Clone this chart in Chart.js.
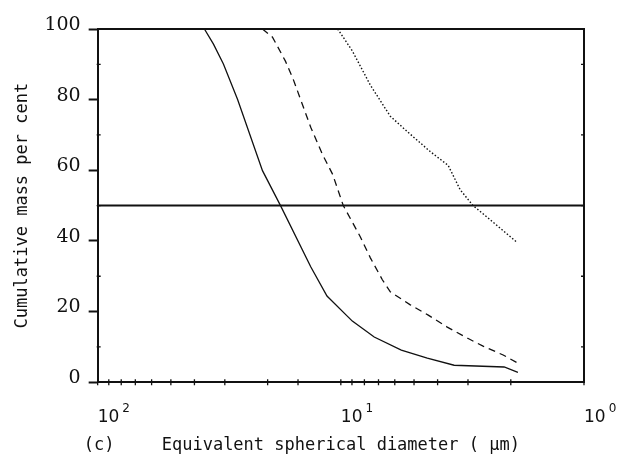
<!DOCTYPE html>
<html>
<head>
<meta charset="utf-8">
<title>Cumulative mass per cent</title>
<script src="https://cdn.jsdelivr.net/npm/chart.js@4/dist/chart.umd.min.js"></script>
<style>
  html, body { margin: 0; padding: 0; background: #fff; }
  #wrap { width: 634px; height: 467px; position: relative; }
</style>
</head>
<body>
<div id="wrap"><canvas id="psd"></canvas></div>
<script>
// Particle size distributions, diameter in µm, mass in %
const solidSize  = [36.4, 33.4, 30.4, 26.6, 21.0, 17.7, 13.3, 11.4, 8.97, 7.29, 5.64, 4.41, 3.42, 2.13, 1.87];
const solidMass  = [100, 95.7, 90.1, 80.1, 59.9, 50, 32.7, 24.4, 17.3, 12.8, 9.1, 6.8, 4.8, 4.3, 2.8];

const dashedSize = [21.0, 19.1, 16.9, 15.7, 14.4, 13.3, 11.9, 10.8, 9.77, 8.32, 7.56, 6.75, 6.26, 5.18, 4.37, 3.65, 3.02, 2.60, 2.15, 1.87];
const dashedMass = [100, 97.7, 90.9, 85.8, 78.7, 72.2, 64.5, 58.8, 50, 41.2, 35.2, 29.0, 25.6, 21.9, 19.0, 15.6, 12.5, 10.2, 7.7, 5.4];

const dottedSize = [10.3, 8.97, 7.56, 6.26, 5.28, 4.29, 3.62, 3.23, 2.86, 2.43, 1.88];
const dottedMass = [100, 93.8, 84.1, 75.3, 70.7, 65.3, 61.4, 54.5, 50, 46.0, 39.5];

// 50 % reference line across the whole range
const medianSize = [100, 1];
const medianMass = [50, 50];

const massTicks = [0, 20, 40, 60, 80, 100];
const massMinor = [10, 30, 50, 70, 90];
// decade ticks: mantissa label plus exponent
const decadeValues = [1, 10, 100];
const decadeExponents = ['0', '1', '2'];

const INK = '#111';
const BASE_FONT = '17px "DejaVu Sans"';
const EXP_FONT = '12px "DejaVu Sans"';

function pts(xs, ys) {
    return xs.map((x, i) => ({ x: x, y: ys[i] }));
}

function curve(xs, ys, dash, width) {
    return {
        data: pts(xs, ys),
        showLine: true,
        borderColor: INK,
        borderWidth: width,
        borderDash: dash,
        pointRadius: 0,
        tension: 0,
        fill: false
    };
}

// frame, minor ticks, decade exponents and the "(c)" tag
const frameTicks = {
    id: 'frameTicks',
    afterDraw(chart) {
        const { ctx, chartArea: a, scales: { x, y } } = chart;
        ctx.save();
        ctx.strokeStyle = INK;
        ctx.lineWidth = 2;
        ctx.beginPath();
        ctx.moveTo(a.left, a.top);
        ctx.lineTo(a.right, a.top);
        ctx.lineTo(a.right, a.bottom);
        ctx.stroke();

        ctx.lineWidth = 1.3;
        ctx.beginPath();
        x.ticks.forEach(t => {
            const px = x.getPixelForValue(t.value);
            ctx.moveTo(px, a.bottom - 3);
            ctx.lineTo(px, a.bottom + 3);
        });
        massMinor.forEach(v => {
            const py = y.getPixelForValue(v);
            ctx.moveTo(a.left - 1, py);
            ctx.lineTo(a.left + 3, py);
            ctx.moveTo(a.right - 3, py);
            ctx.lineTo(a.right + 1, py);
        });
        ctx.stroke();

        ctx.fillStyle = INK;
        ctx.textBaseline = 'alphabetic';
        ctx.textAlign = 'left';
        ctx.font = BASE_FONT;
        const baseW = ctx.measureText('10').width;
        ctx.font = EXP_FONT;
        decadeValues.forEach((v, i) => {
            const px = x.getPixelForValue(v);
            ctx.fillText(decadeExponents[i], px + baseW + 3, a.bottom + 30);
        });

        ctx.font = '17px "DejaVu Sans Mono"';
        ctx.fillText('(c)', a.left - 14, a.bottom + 68);
        ctx.restore();
    }
};

new Chart(document.getElementById('psd'), {
    type: 'scatter',
    data: {
        datasets: [
            curve(solidSize, solidMass, [], 1.3),
            curve(dashedSize, dashedMass, [7, 5], 1.3),
            curve(dottedSize, dottedMass, [1.5, 2], 1.4),
            curve(medianSize, medianMass, [], 2)
        ]
    },
    options: {
        responsive: true,
        maintainAspectRatio: false,
        animation: false,
        layout: { padding: { left: 12, right: 50, top: 29, bottom: 11 } },
        plugins: {
            legend: { display: false },
            tooltip: { enabled: false }
        },
        scales: {
            x: {
                type: 'logarithmic',
                reverse: true,
                min: 1,
                max: 100,
                border: { display: true, color: INK, width: 2 },
                grid: { display: false, drawTicks: false },
                ticks: {
                    autoSkip: false,
                    maxRotation: 0,
                    align: 'start',
                    padding: 25,
                    color: INK,
                    font: { family: 'DejaVu Sans', size: 17 },
                    callback: v => (decadeValues.includes(v) ? '10' : '')
                },
                title: {
                    display: true,
                    text: 'Equivalent spherical diameter ( \u00b5m)',
                    color: INK,
                    font: { family: 'DejaVu Sans Mono', size: 17 },
                    padding: { top: -17, bottom: 0 }
                }
            },
            y: {
                min: 0,
                max: 100,
                border: { display: true, color: INK, width: 2 },
                grid: {
                    drawOnChartArea: false,
                    drawTicks: true,
                    tickLength: 9,
                    tickWidth: 2,
                    color: INK
                },
                afterBuildTicks: scale => {
                    scale.ticks = massTicks.map(v => ({ value: v }));
                },
                ticks: {
                    padding: 8,
                    color: INK,
                    labelOffset: -4,
                    font: { family: 'DejaVu Serif', size: 19 }
                },
                title: {
                    display: true,
                    text: 'Cumulative mass per cent',
                    color: INK,
                    font: { family: 'DejaVu Sans Mono', size: 17 },
                    padding: { top: 0, bottom: 4 }
                }
            }
        }
    },
    plugins: [frameTicks]
});
</script>
</body>
</html>
